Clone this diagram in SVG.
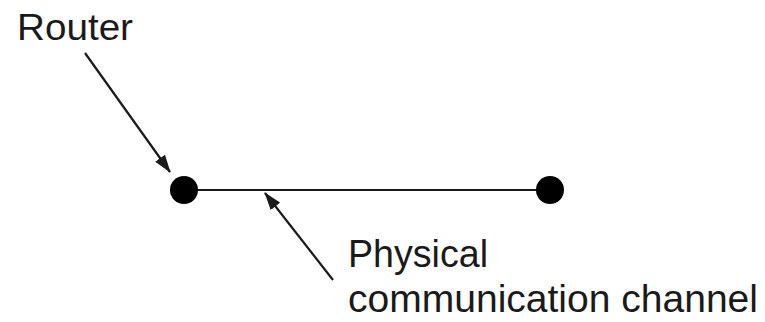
<svg xmlns="http://www.w3.org/2000/svg" width="765" height="322" viewBox="0 0 765 322">
<style>
.lbl{font-family:"Liberation Sans",Arial,sans-serif;font-size:36px;fill:#1a1a1a}
.big{font-size:38px}
.ln{stroke:#1a1a1a;stroke-width:2.2;fill:none}
.node{fill:#000}
</style>
<defs>
<marker id="ah2" markerWidth="18" markerHeight="12" refX="17" refY="6" orient="auto" markerUnits="userSpaceOnUse" viewBox="0 0 18 12">
<path d="M0,0 L18,6 L0,12 Z" fill="#1a1a1a"/>
</marker>
</defs>
<rect width="765" height="322" fill="#fff"/>
<g id="connectors">
<line class="ln" x1="184" y1="190" x2="550" y2="190" stroke-width="2.5"/>
<line class="ln" x1="85" y1="53" x2="170" y2="172" marker-end="url(#ah2)"/>
<line class="ln" x1="333" y1="280" x2="265" y2="193" marker-end="url(#ah2)"/>
</g>
<g id="router-left"><circle class="node" cx="184" cy="190" r="14"/></g>
<g id="router-right"><circle class="node" cx="550" cy="190" r="14"/></g>
<g id="label-router"><text class="lbl" x="17" y="40" textLength="116" lengthAdjust="spacingAndGlyphs">Router</text></g>
<g id="label-channel">
<text class="lbl big" x="348" y="267" textLength="140" lengthAdjust="spacingAndGlyphs">Physical</text>
<text class="lbl big" x="348" y="312" textLength="410" lengthAdjust="spacingAndGlyphs">communication channel</text>
</g>
</svg>
